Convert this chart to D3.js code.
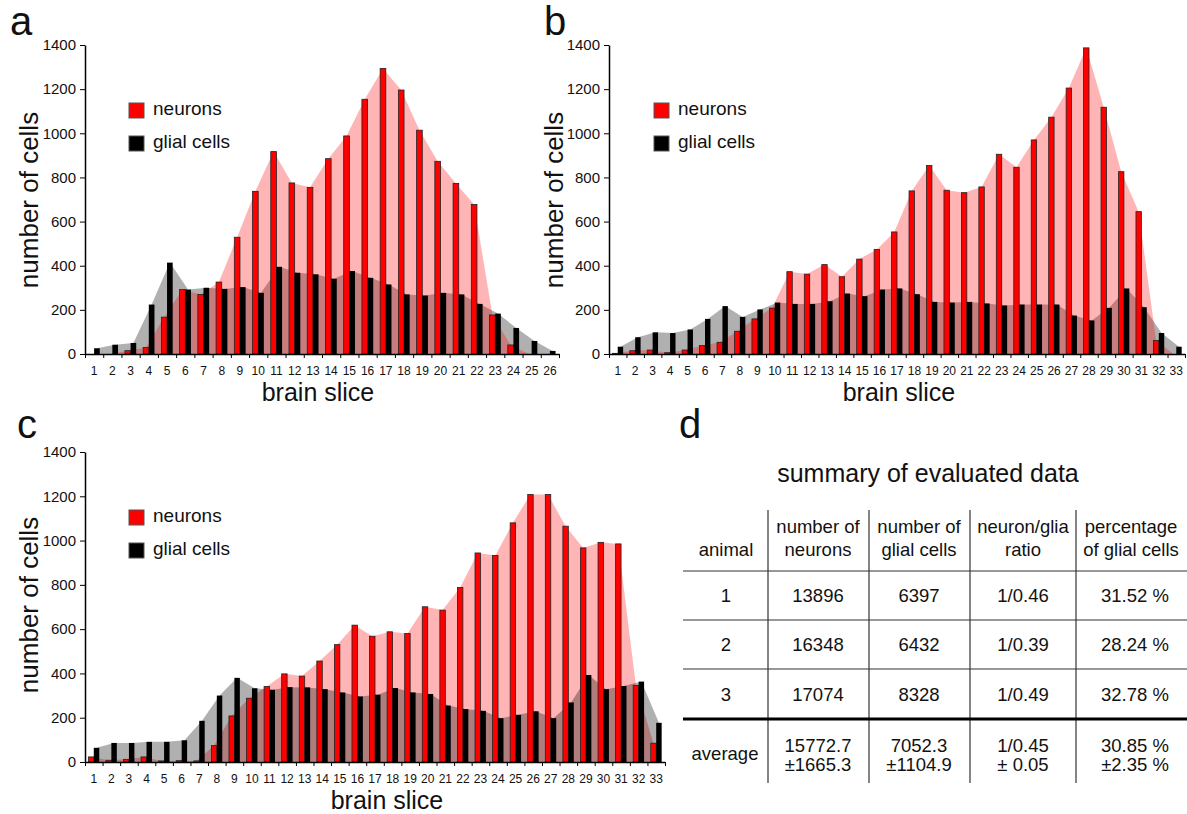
<!DOCTYPE html>
<html>
<head>
<meta charset="utf-8">
<title>neurons and glial cells per brain slice</title>
<script src="https://d3js.org/d3.v7.min.js"></script>
<style>
  body { margin: 0; background: #fff; }
  text { font-family: "Liberation Sans", Arial, sans-serif; fill: #111; }
</style>
</head>
<body>
<script>
// ---- data ----
var neuronsA = [0, 0, 15, 30, 167, 292, 270, 326, 529, 737, 917, 775, 755, 885, 988, 1154, 1294, 1196, 1014, 873, 773, 677, 177, 41, 0, 0];
var gliaA    = [26, 42, 50, 224, 414, 292, 300, 295, 303, 277, 395, 368, 361, 341, 376, 345, 315, 270, 265, 277, 270, 227, 183, 118, 59, 14];

var neuronsB = [3, 15, 18, 6, 18, 38, 53, 103, 159, 208, 373, 362, 405, 350, 430, 474, 553, 739, 854, 742, 731, 757, 905, 846, 970, 1073, 1205, 1387, 1118, 826, 645, 61, 0];
var gliaB    = [33, 76, 98, 95, 111, 159, 217, 168, 202, 233, 227, 227, 239, 274, 262, 292, 297, 271, 236, 233, 236, 229, 220, 224, 224, 224, 174, 152, 209, 297, 212, 95, 33];

var neuronsC = [23, 8, 12, 23, 5, 6, 5, 74, 208, 288, 341, 398, 388, 456, 530, 618, 568, 588, 580, 701, 686, 788, 944, 933, 1080, 1208, 1208, 1065, 967, 992, 985, 346, 85];
var gliaC    = [64, 86, 86, 91, 91, 98, 186, 300, 380, 333, 326, 338, 337, 329, 314, 296, 304, 334, 314, 307, 255, 239, 231, 198, 213, 229, 198, 269, 393, 329, 343, 363, 177];

var yTicks = [0, 200, 400, 600, 800, 1000, 1200, 1400];
var legendLabels = ["neurons", "glial cells"];

// table (panel d)
var tableTitle = "summary of evaluated data";
var headTop = ["", "number of", "number of", "neuron/glia", "percentage"];
var headBottom = ["animal", "neurons", "glial cells", "ratio", "of glial cells"];
var animals = ["1", "2", "3"];
var totalNeurons = ["13896", "16348", "17074"];
var totalGlia = ["6397", "6432", "8328"];
var ratios = ["1/0.46", "1/0.39", "1/0.49"];
var percentGlia = ["31.52 %", "28.24 %", "32.78 %"];
var averageTop = ["15772.7", "7052.3", "1/0.45", "30.85 %"];
var averageBottom = ["\u00b11665.3", "\u00b11104.9", "\u00b1 0.05", "\u00b12.35 %"];

var width = 1187, height = 814;
var svg = d3.select("body").append("svg")
  .attr("width", width)
  .attr("height", height);

var pink = "rgba(255,0,0,0.29)";
var grey = "rgba(0,0,0,0.31)";

function drawPanel(p) {
  var slices = d3.range(1, p.neurons.length + 1);
  var x = d3.scaleBand().domain(slices).range([p.x0, p.x1]).paddingInner(0).paddingOuter(0);
  var y = d3.scaleLinear().domain([0, 1400]).range([p.y0, p.yTop]);
  var w = x.bandwidth() * 0.31;
  var g = svg.append("g");

  var redArea = d3.area()
    .x(function(d, i) { return x(slices[i]) + x.bandwidth() / 2 - w / 2; })
    .y0(y(0))
    .y1(function(d) { return y(d); });
  var greyArea = d3.area()
    .x(function(d, i) { return x(slices[i]) + x.bandwidth() / 2 + w / 2; })
    .y0(y(0))
    .y1(function(d) { return y(d); });

  // panel c has the glia shadow on top, a and b have the neuron shadow on top
  var layers = p.greyOnTop
    ? [[p.neurons, redArea, pink], [p.glia, greyArea, grey]]
    : [[p.glia, greyArea, grey], [p.neurons, redArea, pink]];
  layers.forEach(function(l) {
    g.append("path").datum(l[0]).attr("d", l[1]).attr("fill", l[2]);
  });

  g.selectAll("rect.neuron").data(p.neurons).enter().append("rect")
    .attr("class", "neuron")
    .attr("x", function(d, i) { return x(slices[i]) + x.bandwidth() / 2 - w; })
    .attr("y", function(d) { return y(d); })
    .attr("width", w)
    .attr("height", function(d) { return y(0) - y(d); })
    .attr("fill", "#ff0000")
    .attr("stroke", "#222")
    .attr("stroke-width", 0.8);
  g.selectAll("rect.glia").data(p.glia).enter().append("rect")
    .attr("class", "glia")
    .attr("x", function(d, i) { return x(slices[i]) + x.bandwidth() / 2; })
    .attr("y", function(d) { return y(d); })
    .attr("width", w)
    .attr("height", function(d) { return y(0) - y(d); })
    .attr("fill", "#000");

  // y axis
  var yAxis = g.append("g")
    .attr("transform", "translate(" + p.x0 + ",0)")
    .call(d3.axisLeft(y).tickValues(yTicks).tickFormat(d3.format("d"))
      .tickSize(5).tickPadding(4).tickSizeOuter(0));
  yAxis.select(".domain").attr("stroke-width", 1.5);
  yAxis.selectAll("text").style("font-size", "15px").style("font-family", "Liberation Sans, Arial, sans-serif");

  // x axis: ticks on slice boundaries, labels under slice centres
  var bounds = d3.scaleLinear().domain([0, slices.length]).range([p.x0, p.x1]);
  var xAxis = g.append("g")
    .attr("transform", "translate(0," + p.y0 + ")")
    .call(d3.axisBottom(bounds).tickValues(d3.range(0, slices.length + 1))
      .tickSize(4).tickSizeOuter(0).tickFormat(""));
  xAxis.select(".domain").attr("stroke-width", 1.5);
  g.append("g")
    .attr("transform", "translate(0," + p.y0 + ")")
    .call(d3.axisBottom(x).tickSize(0).tickPadding(12))
    .call(function(s) {
      s.select(".domain").remove();
      s.selectAll("text").style("font-size", "12px").style("font-family", "Liberation Sans, Arial, sans-serif").attr("fill", "#222");
    });

  // legend
  [["#ff0000", 0], ["#000", 1]].forEach(function(l) {
    g.append("rect")
      .attr("x", p.legX).attr("y", p.legY + l[1] * 33)
      .attr("width", 15).attr("height", 15)
      .attr("fill", l[0]).attr("stroke", "#555").attr("stroke-width", 1);
    g.append("text")
      .attr("x", p.legX + 24).attr("y", p.legY + l[1] * 33 + 12)
      .style("font-size", "19px")
      .text(legendLabels[l[1]]);
  });

  // axis titles and panel letter
  g.append("text")
    .attr("transform", "translate(" + p.yLabX + "," + p.yLabY + ") rotate(-90)")
    .attr("text-anchor", "middle")
    .style("font-size", "26px")
    .text("number of cells");
  g.append("text")
    .attr("x", p.xLabX).attr("y", p.xLabY)
    .attr("text-anchor", "middle")
    .style("font-size", "25px")
    .text("brain slice");
  g.append("text")
    .attr("x", p.letterX).attr("y", p.letterY)
    .style("font-size", "40px")
    .text(p.letter);
}

drawPanel({ letter: "a", letterX: 10, letterY: 35, neurons: neuronsA, glia: gliaA,
  x0: 85, x1: 559, y0: 354, yTop: 45, greyOnTop: false,
  legX: 129, legY: 103, yLabX: 38, yLabY: 200, xLabX: 318, xLabY: 401 });
drawPanel({ letter: "b", letterX: 544, letterY: 35, neurons: neuronsB, glia: gliaB,
  x0: 609, x1: 1185, y0: 354, yTop: 45, greyOnTop: false,
  legX: 654, legY: 103, yLabX: 563, yLabY: 200, xLabX: 899, xLabY: 401 });
drawPanel({ letter: "c", letterX: 17, letterY: 438, neurons: neuronsC, glia: gliaC,
  x0: 85, x1: 665, y0: 762, yTop: 452, greyOnTop: true,
  legX: 129, legY: 510, yLabX: 38, yLabY: 605, xLabX: 387, xLabY: 809 });

// ---- panel d: summary table ----
var t = svg.append("g");
t.append("text").attr("x", 679).attr("y", 438).style("font-size", "40px").text("d");
t.append("text").attr("x", 928).attr("y", 482).attr("text-anchor", "middle")
  .style("font-size", "25px").text(tableTitle);

var colX = [726, 818, 919, 1023, 1131];
var colLines = [768, 869, 970, 1076];
var rowLines = [571, 620, 669];
var fs = "18.5px";

colLines.forEach(function(cx) {
  t.append("line").attr("x1", cx).attr("x2", cx).attr("y1", 510).attr("y2", 783)
    .attr("stroke", "#333").attr("stroke-width", 1.2);
});
rowLines.forEach(function(ry) {
  t.append("line").attr("x1", 683).attr("x2", 1187).attr("y1", ry).attr("y2", ry)
    .attr("stroke", "#333").attr("stroke-width", 1.2);
});
t.append("line").attr("x1", 683).attr("x2", 1187).attr("y1", 719).attr("y2", 719)
  .attr("stroke", "#000").attr("stroke-width", 3);

function cellText(cx, cy, s) {
  t.append("text").attr("x", cx).attr("y", cy).attr("text-anchor", "middle")
    .style("font-size", fs).text(s);
}
headTop.forEach(function(s, i) { if (s) cellText(colX[i], 533, s); });
headBottom.forEach(function(s, i) { cellText(colX[i], 556, s); });

var rowY = [602, 651, 701];
animals.forEach(function(a, r) {
  [a, totalNeurons[r], totalGlia[r], ratios[r], percentGlia[r]].forEach(function(s, i) {
    cellText(colX[i] + (i == 4 ? 4 : 0), rowY[r], s);
  });
});
cellText(colX[0] - 1, 760, "average");
averageTop.forEach(function(s, i) { cellText(colX[i + 1] + (i == 3 ? 4 : 0), 752, s); });
averageBottom.forEach(function(s, i) { cellText(colX[i + 1] + (i == 3 ? 4 : 0), 771, s); });
</script>
</body>
</html>
